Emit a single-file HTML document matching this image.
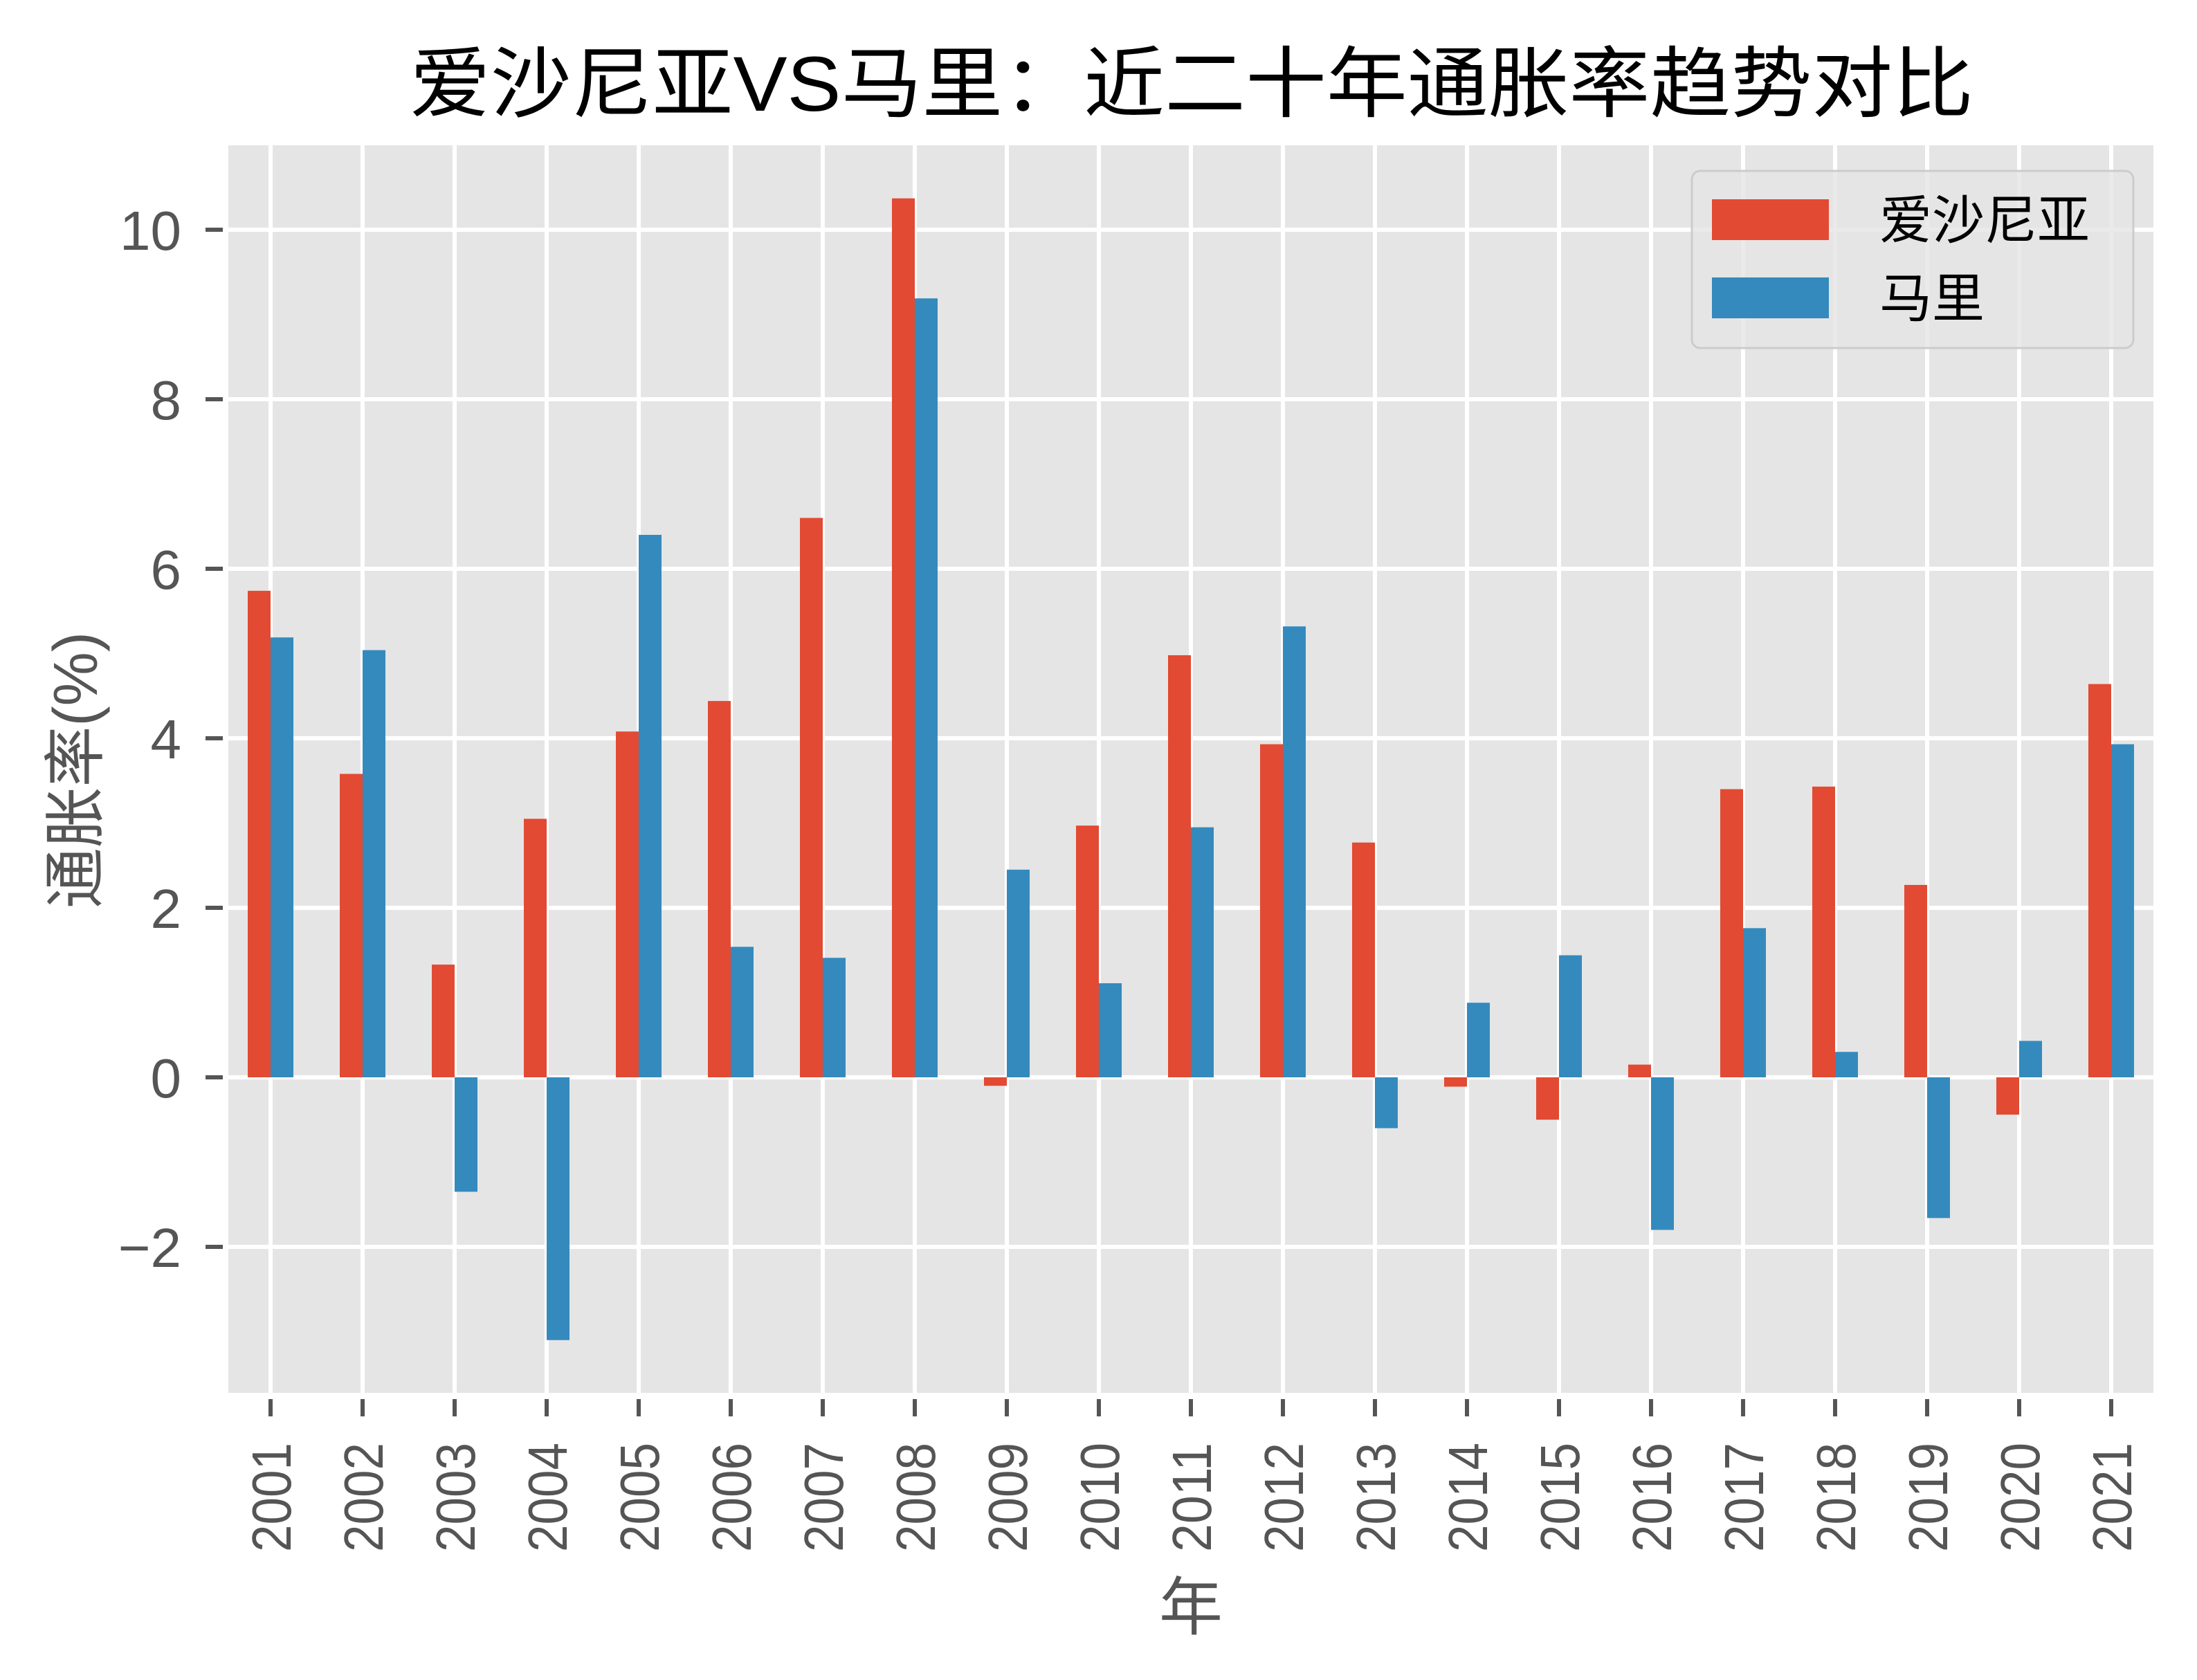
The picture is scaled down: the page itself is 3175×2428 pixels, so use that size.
<!DOCTYPE html>
<html><head><meta charset="utf-8"><style>html,body{margin:0;padding:0;background:#fff}svg{display:block}</style></head>
<body>
<svg width="3175" height="2428" viewBox="0 0 3175 2428" xmlns="http://www.w3.org/2000/svg">
<rect x="0" y="0" width="3175" height="2428" fill="#fff"/>
<rect x="330" y="210" width="2782" height="1803" fill="#E5E5E5"/>
<g id="grid" stroke="#fff" stroke-width="6"></g>
<g id="bars"></g>
<g id="ticks" stroke="#555" stroke-width="6"></g>
<g id="labels" fill="#555" font-family="Liberation Sans, sans-serif" font-size="80"></g>
<text x="1722" y="160" text-anchor="middle" font-family="Liberation Sans, 'Noto Sans CJK SC', sans-serif" font-size="112" fill="#000" textLength="2260" lengthAdjust="spacingAndGlyphs">爱沙尼亚VS马里：近二十年通胀率趋势对比</text>
<text x="1721" y="2355" text-anchor="middle" font-family="Liberation Sans, 'Noto Sans CJK SC', sans-serif" font-size="92" fill="#555">年</text>
<text transform="translate(140,1113) rotate(-90)" x="0" y="0" text-anchor="middle" font-family="Liberation Sans, 'Noto Sans CJK SC', sans-serif" font-size="90" fill="#555" textLength="400" lengthAdjust="spacingAndGlyphs">通胀率(%)</text>
<rect x="2445" y="247" width="638" height="256" rx="12" fill="#E5E5E5" fill-opacity="0.8" stroke="#ccc" stroke-width="3"/>
<rect x="2474" y="288" width="169" height="59" fill="#E24A33"/>
<rect x="2474" y="401" width="169" height="59" fill="#348ABD"/>
<text x="2716" y="345" font-family="Liberation Sans, 'Noto Sans CJK SC', sans-serif" font-size="76" fill="#000">爱沙尼亚</text>
<text x="2716" y="458" font-family="Liberation Sans, 'Noto Sans CJK SC', sans-serif" font-size="76" fill="#000">马里</text>
<script>
(function(){
var NS="http://www.w3.org/2000/svg";
function el(p,t,a,txt){var e=document.createElementNS(NS,t);for(var k in a)e.setAttribute(k,a[k]);if(txt!=null)e.textContent=txt;document.getElementById(p).appendChild(e);}
function Y(v){return 1557-122.5*v;}
var est=[5.74,3.58,1.33,3.05,4.08,4.44,6.6,10.37,-0.1,2.97,4.98,3.93,2.77,-0.11,-0.5,0.15,3.40,3.43,2.27,-0.44,4.64];
var mal=[5.19,5.04,-1.35,-3.1,6.40,1.54,1.41,9.19,2.45,1.11,2.95,5.32,-0.6,0.88,1.44,-1.8,1.76,0.3,-1.66,0.43,3.93];
for(var v=-2;v<=10;v+=2){var y=Y(v);
 el("grid","line",{x1:330,x2:3112,y1:y,y2:y});
 el("ticks","line",{x1:297,x2:322,y1:y,y2:y});
 el("labels","text",{x:262,y:y+29,"text-anchor":"end"},v<0?"\u2212"+(-v):""+v);}
for(var i=0;i<21;i++){var x=391+133*i;
 el("grid","line",{x1:x,x2:x,y1:210,y2:2013});
 el("ticks","line",{x1:x,x2:x,y1:2022,y2:2047});
 el("labels","text",{transform:"translate("+x+",2085) rotate(-90)",x:0,y:29,"text-anchor":"end",textLength:158,lengthAdjust:"spacingAndGlyphs"},""+(2001+i));
 var a=est[i],b=mal[i];
 el("bars","rect",{x:x-33,y:Math.min(Y(a),Y(0)),width:33,height:Math.abs(Y(a)-Y(0)),fill:"#E24A33"});
 el("bars","rect",{x:x,y:Math.min(Y(b),Y(0)),width:33,height:Math.abs(Y(b)-Y(0)),fill:"#348ABD"});
}
})();
</script>
</svg>
</body></html>
